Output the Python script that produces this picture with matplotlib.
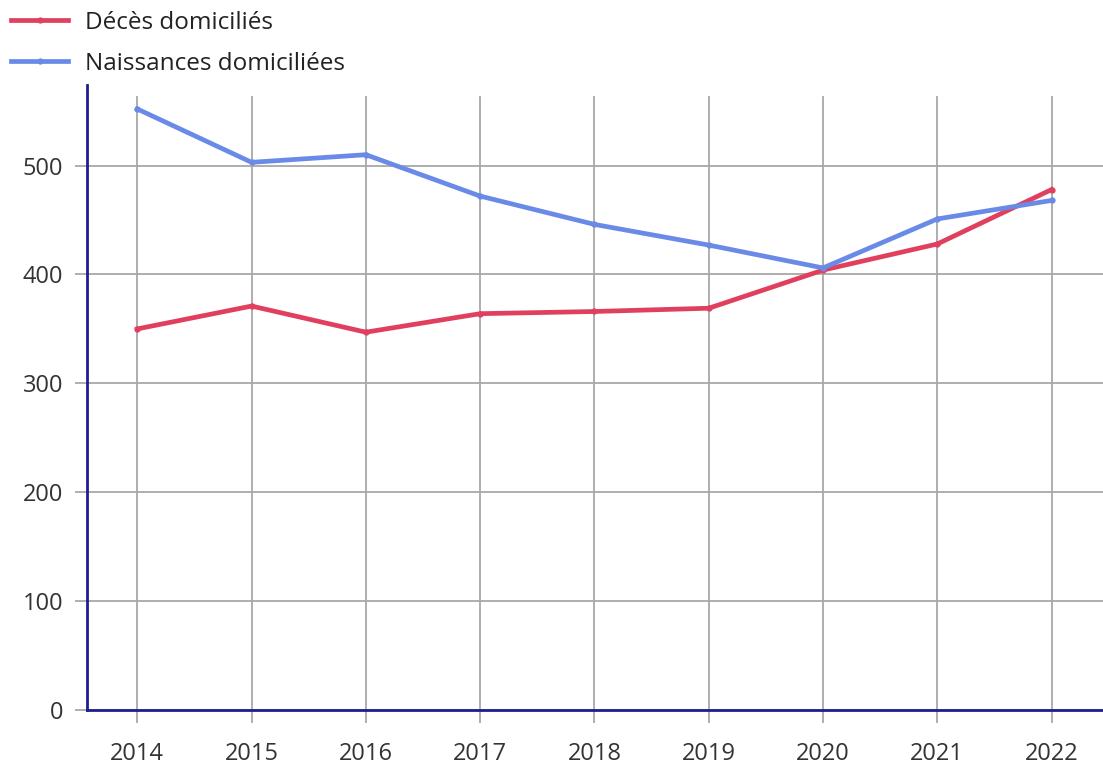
import matplotlib.pyplot as plt
import numpy as np

years = [2014, 2015, 2016, 2017, 2018, 2019, 2020, 2021, 2022]
deces = [350, 371, 347, 364, 366, 369, 404, 428, 478]
naissances = [552, 503, 510, 472, 446, 427, 406, 451, 468]
yticks = [0, 100, 200, 300, 400, 500]

plt.rcParams['font.family'] = ['Open Sans', 'DejaVu Sans']

fig = plt.figure(figsize=(11.03, 7.64), dpi=100)
ax = fig.add_axes([0.0789, 0.0707, 0.9211, 0.818])

grid_col = '#a8a8a8'
for y in yticks:
    ax.axhline(y, color=grid_col, lw=1.3, zorder=1)
top = 574
for x in years:
    ax.axvline(x, ymin=0, ymax=563 / top, color=grid_col, lw=1.3, zorder=1)

l1, = ax.plot(years, deces, color='#e0405e', lw=3.4, marker='o', ms=3.5, zorder=3,
              label='Décès domiciliés')
l2, = ax.plot(years, naissances, color='#6a8ae8', lw=3.4, marker='o', ms=3.5, zorder=3,
              label='Naissances domiciliées')

ax.set_xlim(2013.56, 2022.45)
ax.set_ylim(0, top)
ax.set_xticks(years)
ax.set_yticks(yticks)
ax.tick_params(axis='both', colors=grid_col, length=9, width=1.3, labelsize=17,
               labelcolor='#333333', pad=8)
ax.tick_params(axis='x', pad=14)

for s in ['top', 'right']:
    ax.spines[s].set_visible(False)
for s in ['left', 'bottom']:
    ax.spines[s].set_color('#1f1f8f')
    ax.spines[s].set_linewidth(2)

fig.legend(handles=[l1, l2], loc='upper left', bbox_to_anchor=(-0.0055, 1.008),
           frameon=False, fontsize=17.5, handlelength=2.35, handletextpad=0.7,
           labelspacing=0.7, labelcolor='#222222', borderaxespad=0.3)

fig.savefig('out.png', dpi=100)
